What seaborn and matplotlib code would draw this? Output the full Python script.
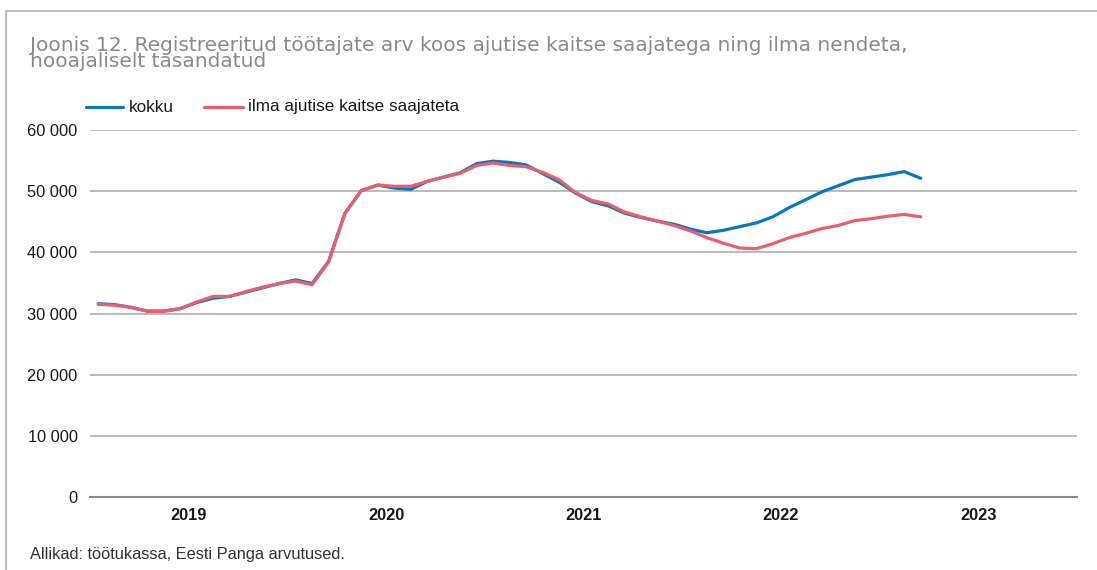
import numpy as np
import pandas as pd
import seaborn as sns
import matplotlib.pyplot as plt
from matplotlib.patches import Rectangle

# monthly data, Jan 2019 - Mar 2023
start_month = '2019-01'
kokku = [31600, 31450, 31000, 30400, 30400, 30800, 31800, 32500, 32800, 33500, 34200, 34900,
         35500, 34900, 38500, 46400, 50100, 51000, 50500, 50300, 51600, 52300, 53000, 54500,
         54900, 54700, 54300, 52900, 51500, 49700, 48300, 47600, 46400, 45700, 45100, 44600,
         43800, 43200, 43600, 44200, 44800, 45800, 47300, 48600, 49900, 50900, 51900, 52300,
         52700, 53200, 52100]
ilma_akt = [31500, 31350, 31000, 30350, 30350, 30800, 31900, 32800, 32800, 33600, 34300, 34900,
            35300, 34700, 38400, 46400, 50100, 51000, 50800, 50800, 51600, 52300, 52900, 54200,
            54600, 54200, 54000, 53100, 51900, 49800, 48500, 47900, 46600, 45800, 45100, 44400,
            43500, 42400, 41500, 40700, 40600, 41400, 42400, 43100, 43900, 44400, 45200, 45500,
            45900, 46200, 45800]
years = [2019, 2020, 2021, 2022, 2023]
yticks = [0, 10000, 20000, 30000, 40000, 50000, 60000]
series_names = ['kokku', 'ilma ajutise kaitse saajateta']
colors = ['#0a77bd', '#e8606f']

periods = pd.period_range(start_month, periods=len(kokku), freq='M')
pos = (periods.year - years[0]) * 12 + periods.month - 0.5
df = pd.concat([
    pd.DataFrame({'pos': pos, 'value': kokku, 'series': series_names[0]}),
    pd.DataFrame({'pos': pos, 'value': ilma_akt, 'series': series_names[1]}),
])

sns.set_style('white')
plt.rcParams['font.family'] = ['Liberation Sans', 'DejaVu Sans']

fig = plt.figure(figsize=(10.97, 5.70), dpi=100)
ax = fig.add_axes([90 / 1097, 1 - 497 / 570, (1077 - 90) / 1097, (497 - 130) / 570])

for yv in yticks[1:]:
    ax.axhline(yv, color='#b4b4b4', lw=1.3, zorder=0)

sns.lineplot(data=df, x='pos', y='value', hue='series', palette=colors,
             hue_order=series_names, lw=2.3, ax=ax, legend=False)

ax.set_xlim(0, len(years) * 12)
ax.set_ylim(0, 60000)
ax.set_xticks([i * 12 for i in range(len(years) + 1)])
ax.set_xticklabels([])
ax.set_xticks([i * 12 + 6 for i in range(len(years))], minor=True)
ax.set_xticklabels([str(y) for y in years], minor=True, fontsize=11.8, fontweight='bold',
                   color='#1a1a1a')
ax.tick_params(axis='x', which='major', direction='in', length=7, width=1.2, color='#8a8a8a')
ax.tick_params(axis='x', which='minor', length=0, pad=8)
ax.set_yticks(yticks)
ax.set_yticklabels([f'{v:,}'.replace(',', ' ') for v in yticks], fontsize=11.8, color='#1a1a1a')
ax.tick_params(axis='y', length=0, pad=9)
ax.set_xlabel('')
ax.set_ylabel('')
for s in ['top', 'right', 'left']:
    ax.spines[s].set_visible(False)
ax.spines['bottom'].set_color('#8a8a8a')
ax.spines['bottom'].set_linewidth(1.5)

# legend drawn by hand at the top
ly = 1 - 107 / 570
fig.add_artist(plt.Line2D([86 / 1097, 123 / 1097], [ly, ly], color=colors[0], lw=2.3))
fig.text(129 / 1097, ly, series_names[0], fontsize=12.3, va='center', color='#1a1a1a')
fig.add_artist(plt.Line2D([204 / 1097, 243 / 1097], [ly, ly], color=colors[1], lw=2.3))
fig.text(248 / 1097, ly, series_names[1], fontsize=12.3, va='center', color='#1a1a1a')

fig.text(30 / 1097, 1 - 36 / 570,
         'Joonis 12. Registreeritud töötajate arv koos ajutise kaitse saajatega ning ilma nendeta,\n'
         'hooajaliselt tasandatud',
         fontsize=14.5, family=['DejaVu Sans'], color='#8a8a8a', va='top', linespacing=0.82)
fig.text(30 / 1097, 1 - 555 / 570, 'Allikad: töötukassa, Eesti Panga arvutused.',
         fontsize=11.8, color='#333333', va='center')

fig.add_artist(Rectangle((6 / 1097, -0.1), 1.2, 1 - 11 / 570 + 0.1, transform=fig.transFigure,
                         fill=False, edgecolor='#bdbdbd', lw=1.5))

fig.savefig('out.png', dpi=100)
